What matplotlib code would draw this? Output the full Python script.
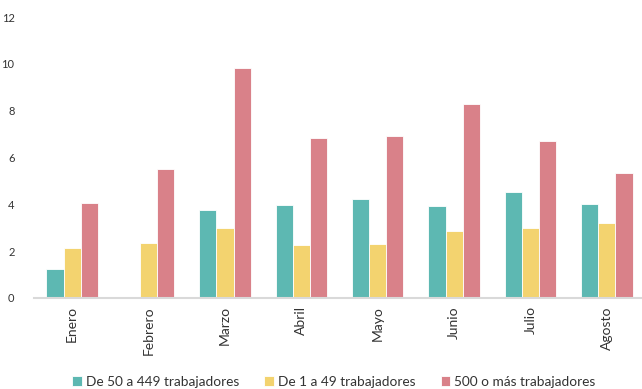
import matplotlib
matplotlib.use("Agg")
import matplotlib.pyplot as plt
import numpy as np

months = ["Enero", "Febrero", "Marzo", "Abril", "Mayo", "Junio", "Julio", "Agosto"]
series_names = ["De 50 a 449 trabajadores", "De 1 a 49 trabajadores", "500 o más trabajadores"]
mid = [1.22, 0.0, 3.74, 3.98, 4.21, 3.94, 4.52, 4.03]
small = [2.14, 2.34, 2.97, 2.27, 2.30, 2.88, 3.00, 3.20]
large = [4.07, 5.49, 9.81, 6.83, 6.90, 8.30, 6.70, 5.33]
colors = ["#5db8b2", "#f3d36f", "#d98189"]
yticks = [0, 2, 4, 6, 8, 10, 12]

plt.rcParams['font.family'] = ['Lato', 'DejaVu Sans']

fig = plt.figure(figsize=(6.42, 3.89), dpi=100)
ax = fig.add_axes([34/642, 1 - 298/389, (642-34)/642, (298-17)/389])

x = np.arange(len(months))
w = 0.225
for i, (vals, c, name) in enumerate(zip([mid, small, large], colors, series_names)):
    ax.bar(x + (i - 1) * w, vals, width=w, color=c, edgecolor="white", linewidth=0.6, label=name)

ax.set_ylim(0, 12)
ax.set_xlim(-0.5, 7.46)
ax.set_yticks(yticks)
ax.set_yticklabels([str(t) for t in yticks], fontsize=8, color="#333333")
ax.set_xticks(x)
ax.set_xticklabels(months, rotation=90, fontsize=10, color="#333333")
for s in ["top", "right", "left"]:
    ax.spines[s].set_visible(False)
ax.spines["bottom"].set_color("#d9d9d9")
ax.spines["bottom"].set_linewidth(1.5)
ax.tick_params(axis="both", length=0)
ax.tick_params(axis="y", pad=14)
ax.tick_params(axis="x", pad=6)

leg = fig.legend(loc="center", bbox_to_anchor=(334/642, 1 - 382/389), ncol=3, frameon=False,
                 fontsize=9.8, handlelength=0.7, handleheight=0.7, handletextpad=0.3,
                 columnspacing=1.85, labelcolor="#333333")

fig.savefig("out.png", dpi=100)
